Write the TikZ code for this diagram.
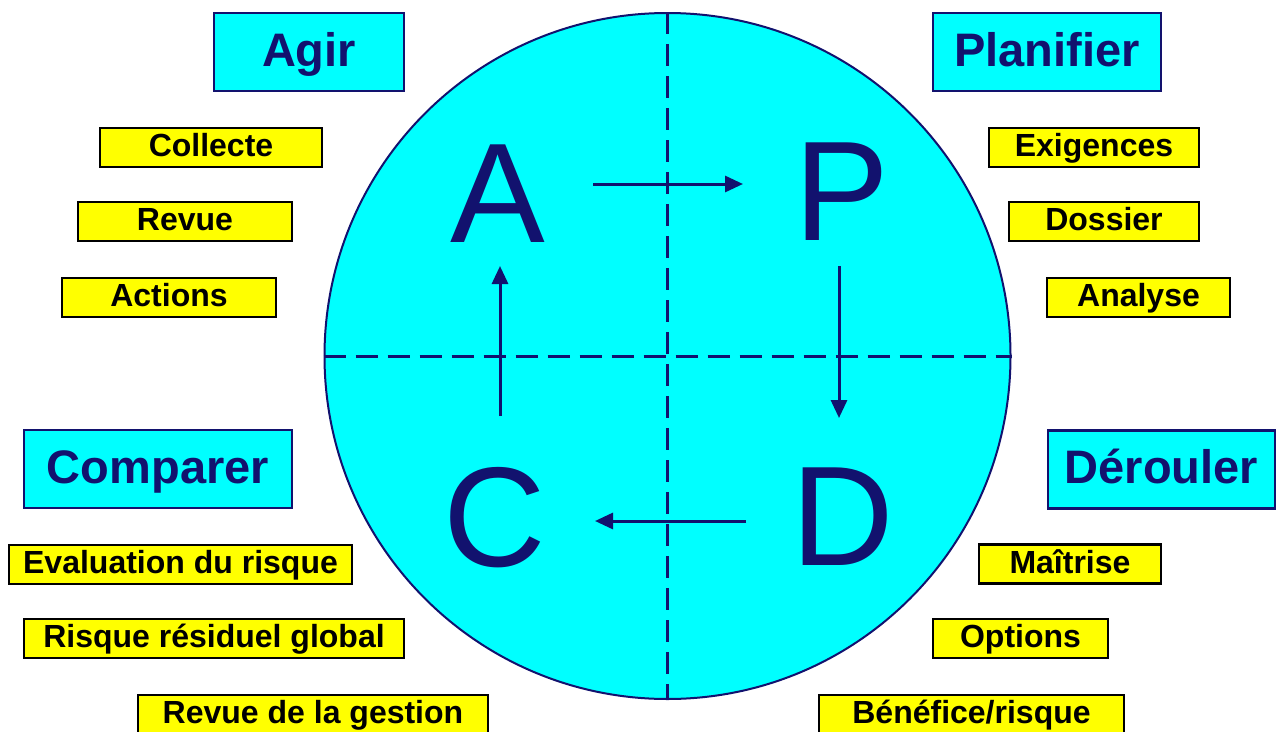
\documentclass[tikz,border=0pt]{standalone}
\usepackage{fontspec}
\setmainfont{Liberation Sans}
\usepackage{xcolor}
\usetikzlibrary{arrows.meta,calc}
\definecolor{pdcanavy}{RGB}{18,18,110}
\definecolor{pdcacyan}{RGB}{0,255,255}
\definecolor{pdcayellow}{RGB}{255,255,0}
\tikzset{
  wheel/.style={circle,draw=pdcanavy,fill=pdcacyan,line width=2pt,minimum size=686pt,inner sep=0pt},
  split/.style={line width=3pt,pdcanavy,dash pattern=on 22pt off 10pt},
  letter/.style={text=pdcanavy,font=\fontsize{142}{142}\selectfont,text height=102pt,text depth=0pt,inner sep=0pt},
  cyc/.style={line width=3pt,pdcanavy,-{Triangle[length=18pt,width=16pt]}},
  phase/.style={rectangle,draw=pdcanavy,fill=pdcacyan,line width=2.5pt,minimum height=78pt,inner sep=0pt,text=pdcanavy,font=\fontsize{47}{47}\selectfont\bfseries,text height=34pt,text depth=6pt},
  task/.style={rectangle,draw=black,fill=pdcayellow,line width=2.5pt,minimum height=39pt,inner sep=0pt,font=\fontsize{32}{32}\selectfont\bfseries,text height=23pt,text depth=5pt}
}
\begin{document}
\begin{tikzpicture}[x=1pt,y=-1pt]
  \useasboundingbox (0,0) rectangle (1279,731);
  % the wheel
  \node[wheel] (W) at (667.5,356) {};
  \draw[split] (W.north) -- (W.south);
  \draw[split] (W.west) -- (W.east);
  \node[letter] (A) at (498,191) {A};
  \node[letter] (P) at (842,189) {P};
  \node[letter] (C) at (495,515) {C};
  \node[letter] (D) at (843,514) {D};
  \draw[cyc] ($(A)+(95,-7)$) -- ($(P)+(-99,-5)$);
  \draw[cyc] ($(P)+(-3,77)$) -- ($(D)+(-4,-96)$);
  \draw[cyc] ($(D)+(-97,7)$) -- ($(C)+(100,6)$);
  \draw[cyc] ($(C)+(5,-99)$) -- ($(A)+(2,75)$);
  % phases
  \node[phase,minimum width=190pt] (agir) at (309,52) {Agir};
  \node[phase,minimum width=228pt] (plan) at (1047,52) {Planifier};
  \node[phase,minimum width=268pt] (comp) at (158,469) {Comparer};
  \node[phase,minimum width=227pt] (dero) at (1161.5,469.5) {Dérouler};
  % tasks
  \node[task,minimum width=222pt] (collecte) at (211,147.5) {Collecte};
  \node[task,minimum width=214pt] (revue) at (185,221.5) {Revue};
  \node[task,minimum width=214pt] (actions) at (169,297.5) {Actions};
  \node[task,minimum width=210pt] (exig) at (1094,147.5) {Exigences};
  \node[task,minimum width=190pt] (dossier) at (1104,221.5) {Dossier};
  \node[task,minimum width=183pt] (analyse) at (1138.5,297.5) {Analyse};
  \node[task,minimum width=343pt] (evalr) at (180.5,564.5) {Evaluation du risque};
  \node[task,minimum width=380pt] (resid) at (214,638.5) {Risque résiduel global};
  \node[task,minimum width=350pt] (gestion) at (313,714.5) {Revue de la gestion};
  \node[task,minimum width=182pt] (maitrise) at (1070,564) {Maîtrise};
  \node[task,minimum width=175pt] (options) at (1020.5,638.5) {Options};
  \node[task,minimum width=305pt] (benef) at (971.5,714.5) {Bénéfice/risque};
\end{tikzpicture}
\end{document}
